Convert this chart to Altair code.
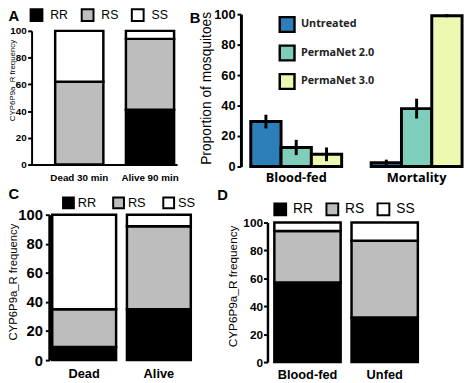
import altair as alt
import pandas as pd

W, H = 466, 375
M = 8  # page margin

genotypes = ["RR", "RS", "SS"]
genotype_colors = ["#000000", "#bdbdbd", "#ffffff"]

a_groups = ["Dead 30 min", "Alive 90 min"]
a_rr = [0, 41]
a_rs = [62, 53]
a_ss = [38, 6]

c_groups = ["Dead", "Alive"]
c_rr = [9, 35]
c_rs = [26, 57]
c_ss = [65, 8]

d_groups = ["Blood-fed", "Unfed"]
d_rr = [57, 32]
d_rs = [37, 55]
d_ss = [6, 13]

b_groups = ["Blood-fed", "Mortality"]
treatments = ["Untreated", "PermaNet 2.0", "PermaNet 3.0"]
treatment_colors = ["#2c7fb8", "#7fcdbb", "#edf8b1"]
b_bloodfed = [29.5, 12.5, 8]
b_bloodfed_err = [4.5, 5, 4.5]
b_mortality = [2.5, 38, 99]
b_mortality_err = [2, 6.5, 1]

y_ticks = [0, 20, 40, 60, 80, 100]
y_title_geno = "CYP6P9a_R frequency"
y_title_b = "Proportion of mosquitoes"

ARIAL = "Liberation Sans, Arial, sans-serif"
OPEN = "Open Sans, Noto Sans, sans-serif"


def X(p):
    return p - M


def Y(p):
    return p - M


def genotype_long(groups, rr, rs, ss):
    rows = []
    for g, a, b, c in zip(groups, rr, rs, ss):
        for i, (k, v) in enumerate(zip(genotypes, (a, b, c))):
            rows.append({"group": g, "genotype": k, "value": v, "order": i})
    return pd.DataFrame(rows)


def yaxis(axis_x, font, size, pad, dw, tfont, tsize, tx, ty, title=y_title_geno, tweight="normal"):
    return alt.Axis(orient="left", offset=-X(axis_x), values=y_ticks, grid=False,
                    domainColor="black", domainWidth=dw, tickColor="black", tickWidth=2,
                    tickSize=4, labelFont=font, labelFontSize=size, labelFontWeight="bold",
                    labelColor="black", labelPadding=pad, title=title, titleFont=tfont,
                    titleFontSize=tsize, titleFontWeight=tweight, titleColor="black",
                    titleAngle=270, titleAlign="center", titleBaseline="middle",
                    titleX=tx - axis_x, titleY=Y(ty))


def xaxis(axis_y, font, size, pad, domain=False):
    return alt.Axis(orient="bottom", offset=Y(axis_y) - H, domain=domain, domainColor="black",
                    domainWidth=2, ticks=False, labelFont=font, labelFontSize=size,
                    labelFontWeight="bold", labelColor="black", labelPadding=pad,
                    labelAngle=0, title=None)


def geno_legend(lx, ly, font, size, sym, off, colpad):
    return alt.Legend(orient="none", legendX=X(lx), legendY=Y(ly), direction="horizontal",
                      columns=3, title=None, symbolType="square", symbolSize=sym,
                      symbolStrokeColor="black", symbolStrokeWidth=2, symbolOpacity=1,
                      labelFont=font, labelFontSize=size, labelColor="black",
                      labelOffset=off, columnPadding=colpad, padding=0)


def stacked_panel(df, groups, xr, pi, po, align, yr, yax, xax, leg, sw):
    return alt.Chart(df).mark_bar(stroke="black", strokeWidth=sw, strokeJoin="miter").encode(
        x=alt.X("group:N", sort=groups, title=None, axis=xax,
                scale=alt.Scale(domain=groups, range=[X(xr[0]), X(xr[1])],
                                paddingInner=pi, paddingOuter=po, align=align)),
        y=alt.Y("value:Q", stack="zero", axis=yax,
                scale=alt.Scale(domain=[0, 100], range=[Y(yr[0]), Y(yr[1])], nice=False)),
        color=alt.Color("genotype:N", legend=leg,
                        scale=alt.Scale(domain=genotypes, range=genotype_colors)),
        order=alt.Order("order:Q", sort="ascending"),
    )


# Panel A
panelA = stacked_panel(
    genotype_long(a_groups, a_rr, a_rs, a_ss), a_groups, (32, 180), 0.319, 0.1875, 0.889,
    (164, 28),
    yaxis(32, ARIAL, 10, 1.5, 2, ARIAL, 8, 12.5, 78),
    xaxis(164, ARIAL, 10, 8, domain=True),
    geno_legend(30, 5, ARIAL, 12.5, 144, 7, 9), 2.5)

# Panel C
panelC = stacked_panel(
    genotype_long(c_groups, c_rr, c_rs, c_ss), c_groups, (53, 194), 0.145, 0, 0.5,
    (363, 215),
    yaxis(50, ARIAL, 15, 3, 3, ARIAL, 11.5, 13.5, 283),
    xaxis(363, ARIAL, 13, 8),
    geno_legend(63, 196.5, ARIAL, 13, 121, 3, 13), 2.5)

# Panel D
panelD = stacked_panel(
    genotype_long(d_groups, d_rr, d_rs, d_ss), d_groups, (279, 425), 0.141, 0, 0.5,
    (365, 223),
    yaxis(272, ARIAL, 12, 1, 2.5, ARIAL, 12, 236, 287.5),
    xaxis(365, ARIAL, 13, 7),
    geno_legend(278, 202.5, ARIAL, 14, 144, 6, 9), 2.5)

# Panel B
rowsB = []
for grp, vals, errs in (("Blood-fed", b_bloodfed, b_bloodfed_err),
                        ("Mortality", b_mortality, b_mortality_err)):
    for i, (t, v, e) in enumerate(zip(treatments, vals, errs)):
        rowsB.append({"group": grp, "treatment": t, "value": v,
                      "lo": max(v - e, 0), "hi": min(v + e, 100), "order": i})
dfB = pd.DataFrame(rowsB)

xscaleB = alt.Scale(domain=b_groups, range=[X(255), X(470)], paddingInner=0.245, paddingOuter=0)
yscaleB = alt.Scale(domain=[0, 100], range=[Y(166), Y(11)], nice=False)
offB = alt.Scale(domain=treatments, paddingInner=0, paddingOuter=0)

legB = alt.Legend(orient="none", legendX=X(283), legendY=Y(12.5), direction="vertical",
                  title=None, symbolType="square", symbolSize=225, symbolStrokeColor="black",
                  symbolStrokeWidth=2.5, symbolOpacity=1, labelFont=OPEN, labelFontSize=11,
                  labelFontWeight="bold", labelColor="#222222", labelOffset=5,
                  rowPadding=3, padding=0)

barsB = alt.Chart(dfB).mark_bar(stroke="black", strokeWidth=3, strokeJoin="miter").encode(
    x=alt.X("group:N", sort=b_groups, title=None, scale=xscaleB,
            axis=xaxis(166, OPEN, 13, 5)),
    xOffset=alt.XOffset("treatment:N", sort=treatments, scale=offB),
    y=alt.Y("value:Q", scale=yscaleB,
            axis=yaxis(245, ARIAL, 13, 2, 3, ARIAL, 14, 210, 86, title=y_title_b)),
    color=alt.Color("treatment:N", legend=legB,
                    scale=alt.Scale(domain=treatments, range=treatment_colors)),
)
errB = alt.Chart(dfB).mark_rule(color="black", strokeWidth=3).encode(
    x=alt.X("group:N", sort=b_groups, title=None),
    xOffset=alt.XOffset("treatment:N", sort=treatments),
    y=alt.Y("lo:Q", title=y_title_b),
    y2="hi:Q",
)
panelB = alt.layer(barsB, errB)


def panel_label(t, x, y):
    return alt.Chart(pd.DataFrame({"t": [t]})).mark_text(
        align="left", baseline="alphabetic", font=ARIAL, fontSize=15, fontWeight="bold",
        color="black").encode(text="t:N", x=alt.value(X(x)), y=alt.value(Y(y)))


labels = [panel_label("A", 8.5, 18), panel_label("B", 193, 20),
          panel_label("C", 8.5, 199), panel_label("D", 221, 200)]

chart = alt.layer(panelA, panelB, panelC, panelD, *labels).resolve_scale(
    x="independent", y="independent", color="independent"
).properties(
    width=W, height=H, padding=0, autosize=alt.AutoSizeParams(type="none")
).configure_view(stroke=None)

chart.save("out.html", embed_options={"renderer": "svg", "actions": False})
